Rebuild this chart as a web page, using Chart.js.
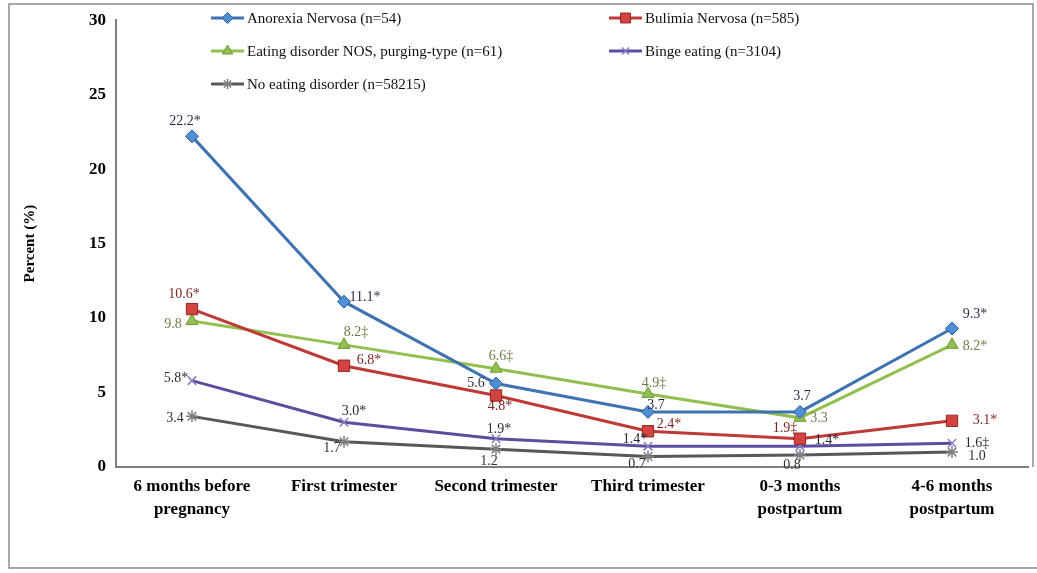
<!DOCTYPE html>
<html>
<head>
<meta charset="utf-8">
<title>Eating disorder symptoms around pregnancy</title>
<script src="https://cdn.jsdelivr.net/npm/chart.js@4.4.1/dist/chart.umd.min.js"></script>
<style>
  html, body { margin: 0; padding: 0; background: #fff; }
  canvas { display: block; }
</style>
</head>
<body>
<canvas id="trend" width="1037" height="573"></canvas>
<script>
const periods = [
  ['6 months before', 'pregnancy'],
  'First trimester',
  'Second trimester',
  'Third trimester',
  ['0-3 months', 'postpartum'],
  ['4-6 months', 'postpartum']
];
const yTicks = [0, 5, 10, 15, 20, 25, 30];

const anorexia = [22.2, 11.1, 5.6, 3.7, 3.7, 9.3];
const bulimia = [10.6, 6.8, 4.8, 2.4, 1.9, 3.1];
const ednos = [9.8, 8.2, 6.6, 4.9, 3.3, 8.2];
const binge = [5.8, 3.0, 1.9, 1.4, 1.4, 1.6];
const noEd = [3.4, 1.7, 1.2, 0.7, 0.8, 1.0];

// significance marks printed after each value
const anorexiaSig = ['*', '*', '', '', '', '*'];
const bulimiaSig = ['*', '*', '*', '*', '\u2021', '*'];
const ednosSig = ['', '\u2021', '\u2021', '\u2021', '', '*'];
const bingeSig = ['*', '*', '*', '*', '*', '\u2021'];
const noEdSig = ['', '', '', '', '', ''];

// where each value label sits relative to its point (dx, dy)
const anorexiaPos = [[-7, -15], [21, -4], [-20, 0], [8, -7], [2, -16], [23, -14]];
const bulimiaPos = [[-8, -15], [25, -5], [4, 11], [21, -7], [-15, -10], [33, -1]];
const ednosPos = [[-19, 3], [12, -13], [5, -12], [6, -11], [19, 0], [23, 1]];
const bingePos = [[-16, -2], [10, -11], [3, -9], [-13, -7], [27, -6], [25, 0]];
const noEdPos = [[-17, 2], [-12, 7], [-7, 12], [-11, 8], [-8, 10], [25, 4]];

const SERIF = "'Liberation Serif', 'Times New Roman', serif";

function series(label, data, sig, pos, opts) {
  return Object.assign({
    label, data, sig, pos,
    borderWidth: 3,
    tension: 0,
    fill: false,
    pointBorderWidth: 1,
    pointHoverRadius: 0
  }, opts);
}

const datasets = [
  series('Anorexia Nervosa (n=54)', anorexia, anorexiaSig, anorexiaPos, {
    borderColor: '#3f72b0', pointStyle: 'rectRot', pointRadius: 6.5,
    pointBackgroundColor: '#4f8fd6', pointBorderColor: '#2f5f99', labelColor: '#1f2a40'
  }),
  series('Bulimia Nervosa (n=585)', bulimia, bulimiaSig, bulimiaPos, {
    borderColor: '#bf3a36', pointStyle: 'rect', pointRadius: 8,
    pointBackgroundColor: '#d4433f', pointBorderColor: '#8e2522', labelColor: '#7a1f1f'
  }),
  series('Eating disorder NOS, purging-type (n=61)', ednos, ednosSig, ednosPos, {
    borderColor: '#92c050', pointStyle: 'triangle', pointRadius: 7,
    pointBackgroundColor: '#92c050', pointBorderColor: '#6f9a36', labelColor: '#6f7a48'
  }),
  series('Binge eating (n=3104)', binge, bingeSig, bingePos, {
    borderColor: '#5f4c9c', pointStyle: 'crossRot', pointRadius: 6, pointBorderWidth: 1.5,
    pointBackgroundColor: '#8a7cc0', pointBorderColor: '#8a7cc0', labelColor: '#2d2838'
  }),
  series('No eating disorder (n=58215)', noEd, noEdSig, noEdPos, {
    borderColor: '#585858', pointStyle: 'star', pointRadius: 6, pointBorderWidth: 1.5,
    pointBackgroundColor: '#808080', pointBorderColor: '#808080', labelColor: '#333333'
  })
];

// legend slots inside the plot: [lineStartX, centerY]
const legendSlots = [[211, 18], [609, 18], [211, 51], [609, 51], [211, 84]];

const framePlugin = {
  id: 'frame',
  beforeDraw(chart) {
    const ctx = chart.ctx;
    ctx.save();
    ctx.fillStyle = '#fff';
    ctx.fillRect(0, 0, chart.width, chart.height);
    ctx.strokeStyle = '#8c8c8c';
    ctx.lineWidth = 1.5;
    ctx.beginPath();
    ctx.moveTo(1033, chart.chartArea.bottom);
    ctx.lineTo(1033, 4);
    ctx.lineTo(9, 4);
    ctx.lineTo(9, 568);
    ctx.lineTo(1037, 568);
    ctx.stroke();
    ctx.restore();
  }
};

const valueLabels = {
  id: 'valueLabels',
  afterDatasetsDraw(chart) {
    const ctx = chart.ctx;
    ctx.save();
    ctx.font = '14px ' + SERIF;
    ctx.textAlign = 'center';
    ctx.textBaseline = 'middle';
    chart.data.datasets.forEach((ds, di) => {
      const meta = chart.getDatasetMeta(di);
      meta.data.forEach((pt, i) => {
        const [dx, dy] = ds.pos[i];
        ctx.fillStyle = ds.labelColor;
        ctx.fillText(ds.data[i].toFixed(1) + ds.sig[i], pt.x + dx, pt.y + dy);
      });
    });
    ctx.restore();
  }
};

const legendBox = {
  id: 'legendBox',
  afterDraw(chart) {
    const ctx = chart.ctx;
    const drawPoint = Chart.helpers && Chart.helpers.drawPoint;
    ctx.save();
    ctx.font = '15px ' + SERIF;
    ctx.textBaseline = 'middle';
    ctx.textAlign = 'left';
    chart.data.datasets.forEach((ds, i) => {
      const [x, y] = legendSlots[i];
      ctx.strokeStyle = ds.borderColor;
      ctx.lineWidth = 3;
      ctx.beginPath();
      ctx.moveTo(x, y);
      ctx.lineTo(x + 33, y);
      ctx.stroke();
      ctx.fillStyle = ds.pointBackgroundColor;
      ctx.strokeStyle = ds.pointBorderColor;
      ctx.lineWidth = ds.pointBorderWidth;
      if (drawPoint) {
        drawPoint(ctx, {
          pointStyle: ds.pointStyle,
          radius: ds.pointRadius - 1,
          rotation: 0,
          borderWidth: ds.pointBorderWidth
        }, x + 16.5, y);
      }
      ctx.fillStyle = '#111';
      ctx.fillText(ds.label, x + 36, y + 1);
    });
    ctx.restore();
  }
};

new Chart(document.getElementById('trend'), {
  type: 'line',
  data: { labels: periods, datasets },
  plugins: [framePlugin, valueLabels, legendBox],
  options: {
    responsive: false,
    animation: false,
    layout: { padding: { top: 18, right: 4, left: 0, bottom: 0 } },
    plugins: {
      legend: { display: false },
      tooltip: { enabled: false }
    },
    scales: {
      x: {
        offset: true,
        grid: { display: false, drawTicks: false },
        border: { color: '#7f7f7f', width: 2 },
        ticks: {
          color: '#000',
          padding: 8,
          maxRotation: 0,
          autoSkip: false,
          font: { family: SERIF, size: 17, weight: 'bold', lineHeight: 1.35 }
        },
        afterFit(scale) { scale.height = 106; }
      },
      y: {
        min: yTicks[0],
        max: yTicks[yTicks.length - 1],
        afterBuildTicks(scale) { scale.ticks = yTicks.map(v => ({ value: v })); },
        grid: { display: false, drawTicks: false },
        border: { color: '#7f7f7f', width: 2 },
        ticks: {
          color: '#000',
          padding: 10,
          font: { family: SERIF, size: 17, weight: 'bold' }
        },
        title: {
          display: true,
          text: 'Percent (%)',
          color: '#000',
          padding: { top: 21 },
          font: { family: SERIF, size: 15, weight: 'bold' }
        },
        afterFit(scale) { scale.width = 116; }
      }
    }
  }
});
</script>
</body>
</html>
